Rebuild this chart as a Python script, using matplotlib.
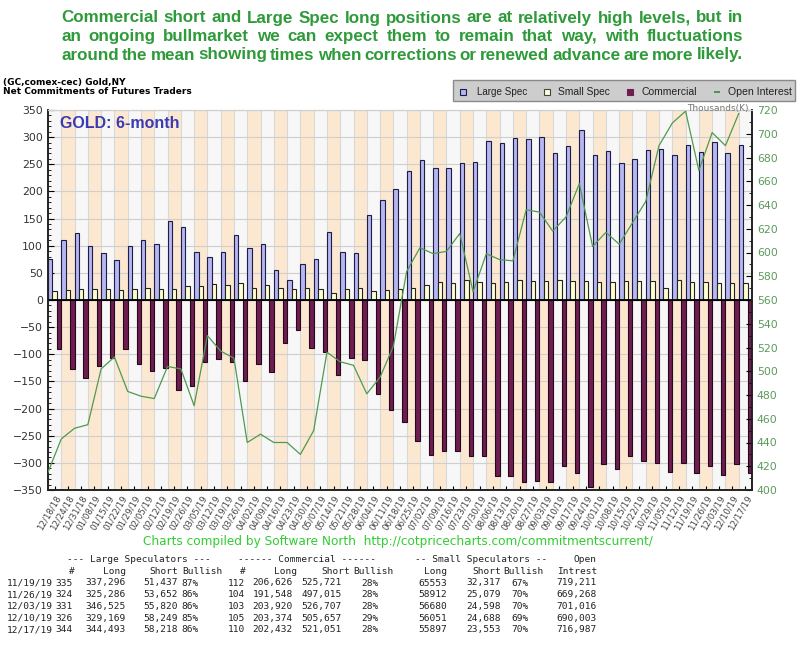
import numpy as np
import matplotlib
matplotlib.use("Agg")
import matplotlib.pyplot as plt
from matplotlib.patches import Rectangle
from matplotlib.lines import Line2D

# weekly report dates
dates = ['12/18/18', '12/24/18', '12/31/18', '01/08/19', '01/15/19', '01/22/19', '01/29/19',
         '02/05/19', '02/12/19', '02/19/19', '02/26/19', '03/05/19', '03/12/19', '03/19/19',
         '03/26/19', '04/02/19', '04/09/19', '04/16/19', '04/23/19', '04/30/19', '05/07/19',
         '05/14/19', '05/21/19', '05/28/19', '06/04/19', '06/11/19', '06/18/19', '06/25/19',
         '07/02/19', '07/09/19', '07/16/19', '07/23/19', '07/30/19', '08/06/19', '08/13/19',
         '08/20/19', '08/27/19', '09/03/19', '09/10/19', '09/17/19', '09/24/19', '10/01/19',
         '10/08/19', '10/15/19', '10/22/19', '10/29/19', '11/05/19', '11/12/19', '11/19/19',
         '11/26/19', '12/03/19', '12/10/19', '12/17/19']

# net positions, thousands of contracts
large_spec = [75, 110, 123, 100, 87, 73, 100, 110, 104, 146, 134, 88, 79, 88, 119, 95, 104,
              55, 37, 67, 75, 125, 88, 87, 156, 184, 204, 237, 257, 244, 244, 252, 254, 292,
              290, 299, 296, 301, 270, 283, 313, 268, 274, 253, 260, 276, 279, 268, 286, 272,
              291, 271, 286]
small_spec = [17, 18, 21, 21, 21, 18, 20, 23, 21, 21, 25, 26, 29, 28, 31, 23, 28,
              23, 21, 23, 21, 13, 20, 23, 17, 18, 20, 23, 28, 34, 31, 36, 34, 31, 34, 36,
              35, 35, 37, 35, 35, 33, 34, 35, 35, 35, 23, 37, 33, 34, 32, 31, 32]
commercial = [-91, -128, -144, -121, -107, -91, -118, -130, -126, -166, -158, -114, -108,
              -114, -150, -118, -132, -79, -56, -89, -96, -138, -106, -111, -173, -202, -224,
              -260, -286, -278, -278, -287, -287, -324, -324, -336, -333, -336, -305, -318,
              -345, -302, -311, -287, -296, -300, -317, -300, -319, -305, -323, -302, -319]
open_interest = [415, 443, 452, 455, 502, 512, 483, 479, 477, 504, 502, 471, 530, 517, 511,
                 440, 447, 440, 440, 430, 450, 516, 508, 505, 481, 495, 521, 584, 604, 599,
                 601, 616, 567, 599, 594, 593, 636, 634, 618, 630, 658, 605, 617, 607, 625,
                 643, 690, 709, 719, 669, 701, 690, 717]

# table under the chart
tbl_dates = ['11/19/19', '11/26/19', '12/03/19', '12/10/19', '12/17/19']
ls_n = [335, 324, 331, 326, 344]
ls_long = [337296, 325286, 346525, 329169, 344493]
ls_short = [51437, 53652, 55820, 58249, 58218]
ls_bull = [87, 86, 86, 85, 86]
cm_n = [112, 104, 103, 105, 110]
cm_long = [206626, 191548, 203920, 203374, 202432]
cm_short = [525721, 497015, 526707, 505657, 521051]
cm_bull = [28, 28, 28, 29, 28]
ss_long = [65553, 58912, 56680, 56051, 55897]
ss_short = [32317, 25079, 24598, 24688, 23553]
ss_bull = [67, 70, 70, 69, 70]
oi_total = [719211, 669268, 701016, 690003, 716987]

title_lines = [
    "Commercial short and Large Spec long positions are at relatively high levels, but in",
    "an ongoing bullmarket we can expect them to remain that way, with fluctuations",
    "around the mean showing times when corrections or renewed advance are more likely.",
]

W, H = 800, 645
fig = plt.figure(figsize=(W / 100, H / 100), dpi=100)
fig.patch.set_facecolor('white')
renderer = fig.canvas.get_renderer()


def px(x, y):
    return x / W, 1 - y / H


def fit(t, width):
    bb = t.get_window_extent(renderer)
    t.set_fontsize(t.get_fontsize() * width / bb.width)
    return t.get_fontsize()


sans = ['Liberation Sans', 'DejaVu Sans']
title_style = dict(va='center', color='#2e9a3a', fontweight='bold', family=sans)

# title: one size (between the sizes that fit lines 1 and 3), lines justified to 61..743
sizes = []
for line in (title_lines[0], title_lines[2]):
    probe = fig.text(0, 0, line, fontsize=12, **title_style)
    sizes.append(fit(probe, 682))
    probe.remove()
fs = sum(sizes) / 2
x0, x1 = 61, 743
for i, line in enumerate(title_lines):
    y = 18 + i * 18.5
    words = [fig.text(*px(0, y), wd, fontsize=fs, **title_style) for wd in line.split()]
    widths = [t.get_window_extent(renderer).width for t in words]
    gap = (x1 - x0 - sum(widths)) / (len(words) - 1)
    cur = x0
    for t, wd in zip(words, widths):
        t.set_x(cur / W)
        cur += wd + gap

fig.text(*px(3, 83), "(GC,comex-cec) Gold,NY", fontsize=6.5, fontweight='bold', va='center')
fig.text(*px(3, 92), "Net Commitments of Futures Traders", fontsize=6.5, fontweight='bold',
         va='center')

# main axes
ax = fig.add_axes([48 / W, 1 - 490 / H, 704 / W, 380 / H])
n = len(dates)
x = np.arange(n)
for i in range(n):
    ax.axvspan(i, i + 1, color='#fce8d0' if i % 2 else '#f7f7f7', lw=0, zorder=0)
    ax.axvline(i, color='#d8d8d8', lw=0.8, zorder=0.5)
for v in range(-300, 351, 50):
    ax.axhline(v, color='#cfcfcf', lw=0.8, zorder=0.6)

w = 1 / 3
ax.bar(x + w / 2, large_spec, w, color='#b6b6f0', edgecolor='#1c1c48', lw=0.8, zorder=2)
ax.bar(x + 1.5 * w, small_spec, w, color='#ffffd2', edgecolor='#222222', lw=0.8, zorder=2)
ax.bar(x + 2.5 * w, commercial, w, color='#6e1d50', edgecolor='#25081a', lw=0.8, zorder=2)
ax.axhline(0, color='black', lw=1.3, zorder=3)

ax.set_xlim(0, n)
ax.set_ylim(-350, 350)
ax.set_yticks(range(-350, 351, 50))
ax.set_yticks(range(-350, 351, 10), minor=True)
ax.set_xticks(x + 0.5)
ax.set_xticklabels(dates, rotation=60, ha='right', rotation_mode='anchor', fontsize=6.2,
                   color='#444444')
ax.tick_params(axis='y', direction='in', labelsize=7.8, labelcolor='#333333', length=4,
               width=0.8)
ax.tick_params(axis='y', which='minor', direction='in', length=2)
ax.tick_params(axis='x', direction='in', length=3, pad=3)
for s in ['left', 'bottom', 'right']:
    ax.spines[s].set_color('#222222')
    ax.spines[s].set_linewidth(1.2)
ax.spines['top'].set_color('#d0d0d0')

ax.text(*px(60, 123), "GOLD: 6-month", transform=fig.transFigure, color='#3a3ab2',
        fontweight='bold', fontsize=11.5, family=sans, va='center', zorder=5)

# open interest on right axis
ax2 = ax.twinx()
ax2.plot(x, open_interest, color='#4f9a4f', lw=0.9, zorder=4)
ax2.set_ylim(400, 720)
ax2.set_yticks(range(400, 721, 20))
ax2.set_yticks(range(400, 721, 10), minor=True)
ax2.tick_params(axis='y', direction='in', labelsize=7.8, labelcolor='#5a9a5a', length=4)
ax2.tick_params(axis='y', which='minor', direction='in', length=2)
for s in ['left', 'bottom', 'right']:
    ax2.spines[s].set_color('#222222')
    ax2.spines[s].set_linewidth(1.2)
ax2.spines['top'].set_color('#d0d0d0')
fig.text(*px(749, 109), "Thousands(K)", ha='right', va='center', fontsize=6.5, color='#777777')

# legend box
fig.add_artist(Rectangle(px(453, 101), 342 / W, 21 / H, transform=fig.transFigure,
                         facecolor='#cdcdcd', edgecolor='#8a8a8a', lw=1))
leg_items = [("Large Spec", 463, 477, 51, '#b6b6f0', '#1c1c48', 's'),
             ("Small Spec", 547, 558, 52, '#ffffd2', '#444444', 's'),
             ("Commercial", 630, 642, 56, '#6e1d50', '#6e1d50', 's'),
             ("Open Interest", 717, 728, 64, '#2f8f2f', '#2f8f2f', '_')]
for label, mx, tx, tw, fc, ec, mk in leg_items:
    fig.add_artist(Line2D([mx / W], [1 - 92 / H], marker=mk, markersize=4.5, mfc=fc, mec=ec,
                          mew=1.2 if mk == '_' else 0.8, ls='none', transform=fig.transFigure))
    t = fig.text(*px(tx, 92), label, va='center', fontsize=8, family=sans, color='#222222')
    fit(t, tw)

# credit line
t = fig.text(*px(143, 542), "Charts compiled by Software North  http://cotpricecharts.com/commitmentscurrent/",
             va='center', color='#33cc33', fontsize=8.5)
fit(t, 514)

# table
mono = dict(family='DejaVu Sans Mono', fontsize=6.8, color='#222222', va='center')
fig.text(*px(67, 560), "--- Large Speculators ---", **mono)
fig.text(*px(238, 560), "------ Commercial ------", **mono)
fig.text(*px(415, 560), "-- Small Speculators --", **mono)
fig.text(*px(597, 560), "Open", ha='right', **mono)
hdr = [(72, "#", 'center'), (126, "Long", 'right'), (178, "Short", 'right'),
       (222, "Bullish", 'right'), (243, "#", 'center'), (297, "Long", 'right'),
       (350, "Short", 'right'), (393, "Bullish", 'right'), (447, "Long", 'right'),
       (501, "Short", 'right'), (544, "Bullish", 'right'), (597, "Intrest", 'right')]
for hx, s, ha in hdr:
    fig.text(*px(hx, 571), s, ha=ha, **mono)
for r in range(len(tbl_dates)):
    y = 583 + r * 11.7
    cells = [(7, tbl_dates[r], 'left'), (55, str(ls_n[r]), 'left'),
             (126, f"{ls_long[r]:,}", 'right'), (178, f"{ls_short[r]:,}", 'right'),
             (181, f"{ls_bull[r]}%", 'left'), (228, str(cm_n[r]), 'left'),
             (293, f"{cm_long[r]:,}", 'right'), (342, f"{cm_short[r]:,}", 'right'),
             (361, f"{cm_bull[r]}%", 'left'), (447, str(ss_long[r]), 'right'),
             (501, f"{ss_short[r]:,}", 'right'), (511, f"{ss_bull[r]}%", 'left'),
             (597, f"{oi_total[r]:,}", 'right')]
    for cx, s, ha in cells:
        fig.text(*px(cx, y), s, ha=ha, **mono)

fig.savefig("out.png", dpi=100)
